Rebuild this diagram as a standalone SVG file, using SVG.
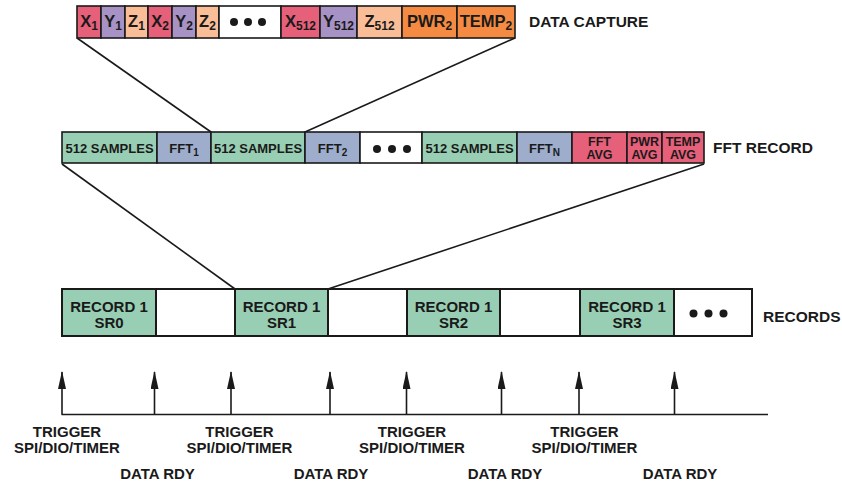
<svg xmlns="http://www.w3.org/2000/svg" width="842" height="485" viewBox="0 0 842 485">
<defs>
<style>
text{font-family:"Liberation Sans",Arial,sans-serif;font-weight:bold;fill:#1a1a1a}
.c{stroke:#1a1a1a;stroke-width:1.6}
.r{stroke:#1a1a1a;stroke-width:2}
.x{fill:#E6607A}.y{fill:#A692C5}.z{fill:#F9BE98}.o{fill:#F58A42}.w{fill:#fff}.g{fill:#98CEB3}.b{fill:#9DADCB}
.t16{font-size:16.5px;text-anchor:middle}
.t13{font-size:13px;text-anchor:middle}
.t12{font-size:12.5px;text-anchor:middle}
.t15{font-size:15px;text-anchor:middle}
.lab{font-size:15.5px}
.tl{font-size:15px;text-anchor:middle}
.ln{stroke:#1a1a1a;stroke-width:1.6;fill:none}
.s1{font-size:12px}
.s2{font-size:10px}
</style>
<marker id="ah" viewBox="0 0 18 8" refX="17" refY="4" markerWidth="18" markerHeight="8" markerUnits="userSpaceOnUse" orient="auto">
<path d="M0,0 L18,4 L0,8 Z" fill="#1a1a1a"/>
</marker>
</defs>

<g id="connectors">
<line class="ln" x1="77" y1="38" x2="211" y2="132"/>
<line class="ln" x1="515" y1="38" x2="305" y2="132"/>
<line class="ln" x1="62" y1="164" x2="235" y2="289"/>
<line class="ln" x1="704" y1="164" x2="328" y2="289"/>
</g>

<g id="data-capture">
<rect class="c x" x="77" y="6" width="24" height="32"/>
<rect class="c y" x="101" y="6" width="24" height="32"/>
<rect class="c z" x="125" y="6" width="23" height="32"/>
<rect class="c x" x="148" y="6" width="24" height="32"/>
<rect class="c y" x="172" y="6" width="24" height="32"/>
<rect class="c z" x="196" y="6" width="23" height="32"/>
<rect class="c w" x="219" y="6" width="62" height="32"/>
<rect class="c x" x="281" y="6" width="39" height="32"/>
<rect class="c y" x="320" y="6" width="37" height="32"/>
<rect class="c z" x="357" y="6" width="45" height="32"/>
<rect class="c o" x="402" y="6" width="55" height="32"/>
<rect class="c o" x="457" y="6" width="58" height="32"/>
<text class="t16" x="89" y="27">X<tspan class="s1" dy="3">1</tspan></text>
<text class="t16" x="113" y="27">Y<tspan class="s1" dy="3">1</tspan></text>
<text class="t16" x="136.5" y="27">Z<tspan class="s1" dy="3">1</tspan></text>
<text class="t16" x="160" y="27">X<tspan class="s1" dy="3">2</tspan></text>
<text class="t16" x="184" y="27">Y<tspan class="s1" dy="3">2</tspan></text>
<text class="t16" x="207.5" y="27">Z<tspan class="s1" dy="3">2</tspan></text>
<circle cx="234" cy="22" r="4" fill="#1a1a1a"/>
<circle cx="248" cy="22" r="4" fill="#1a1a1a"/>
<circle cx="262" cy="22" r="4" fill="#1a1a1a"/>
<text class="t16" x="300.5" y="27">X<tspan class="s1" dy="3">512</tspan></text>
<text class="t16" x="338.5" y="27">Y<tspan class="s1" dy="3">512</tspan></text>
<text class="t16" x="379.5" y="27">Z<tspan class="s1" dy="3">512</tspan></text>
<text class="t16" x="429.5" y="27">PWR<tspan class="s1" dy="3">2</tspan></text>
<text class="t16" x="486" y="27">TEMP<tspan class="s1" dy="3">2</tspan></text>
<text class="lab" x="529" y="27">DATA CAPTURE</text>
</g>

<g id="fft-record">
<rect class="c g" x="62" y="132" width="95" height="31"/>
<rect class="c b" x="157" y="132" width="54" height="31"/>
<rect class="c g" x="211" y="132" width="94" height="31"/>
<rect class="c b" x="305" y="132" width="55" height="31"/>
<rect class="c w" x="360" y="132" width="62" height="31"/>
<rect class="c g" x="422" y="132" width="95" height="31"/>
<rect class="c b" x="517" y="132" width="55" height="31"/>
<rect class="c x" x="572" y="132" width="55" height="31"/>
<rect class="c x" x="627" y="132" width="35" height="31"/>
<rect class="c x" x="662" y="132" width="42" height="31"/>
<text class="t13" x="109.5" y="152.5">512 SAMPLES</text>
<text class="t13" x="184" y="152.5">FFT<tspan class="s2" dy="3">1</tspan></text>
<text class="t13" x="258" y="152.5">512 SAMPLES</text>
<text class="t13" x="332.5" y="152.5">FFT<tspan class="s2" dy="3">2</tspan></text>
<circle cx="377" cy="149" r="4" fill="#1a1a1a"/>
<circle cx="392" cy="149" r="4" fill="#1a1a1a"/>
<circle cx="407" cy="149" r="4" fill="#1a1a1a"/>
<text class="t13" x="469.5" y="152.5">512 SAMPLES</text>
<text class="t13" x="544.5" y="152.5">FFT<tspan class="s2" dy="3">N</tspan></text>
<text class="t12" x="599.5" y="146">FFT</text>
<text class="t12" x="599.5" y="159">AVG</text>
<text class="t12" x="644.5" y="146">PWR</text>
<text class="t12" x="644.5" y="159">AVG</text>
<text class="t12" x="683" y="146">TEMP</text>
<text class="t12" x="683" y="159">AVG</text>
<text class="lab" x="713" y="153">FFT RECORD</text>
</g>

<g id="records">
<rect class="r g" x="62" y="289" width="94" height="47"/>
<rect class="r w" x="156" y="289" width="79" height="47"/>
<rect class="r g" x="235" y="289" width="93" height="47"/>
<rect class="r w" x="328" y="289" width="79" height="47"/>
<rect class="r g" x="407" y="289" width="93" height="47"/>
<rect class="r w" x="500" y="289" width="80" height="47"/>
<rect class="r g" x="580" y="289" width="94" height="47"/>
<rect class="r w" x="674" y="289" width="78" height="47"/>
<text class="t15" x="109" y="312">RECORD 1</text>
<text class="t15" x="109" y="327.5">SR0</text>
<text class="t15" x="281.5" y="312">RECORD 1</text>
<text class="t15" x="281.5" y="327.5">SR1</text>
<text class="t15" x="453.5" y="312">RECORD 1</text>
<text class="t15" x="453.5" y="327.5">SR2</text>
<text class="t15" x="627" y="312">RECORD 1</text>
<text class="t15" x="627" y="327.5">SR3</text>
<circle cx="693.5" cy="313.5" r="4" fill="#1a1a1a"/>
<circle cx="708.5" cy="313.5" r="4" fill="#1a1a1a"/>
<circle cx="723.5" cy="313.5" r="4" fill="#1a1a1a"/>
<text class="lab" x="763" y="321.5">RECORDS</text>
</g>

<g id="timeline">
<line class="ln" x1="61.5" y1="414.5" x2="768" y2="414.5"/>
<line class="ln" x1="62" y1="414.5" x2="62" y2="372" marker-end="url(#ah)"/>
<line class="ln" x1="154.5" y1="414.5" x2="154.5" y2="372" marker-end="url(#ah)"/>
<line class="ln" x1="231" y1="414.5" x2="231" y2="372" marker-end="url(#ah)"/>
<line class="ln" x1="330" y1="414.5" x2="330" y2="372" marker-end="url(#ah)"/>
<line class="ln" x1="406.5" y1="414.5" x2="406.5" y2="372" marker-end="url(#ah)"/>
<line class="ln" x1="501.5" y1="414.5" x2="501.5" y2="372" marker-end="url(#ah)"/>
<line class="ln" x1="579" y1="414.5" x2="579" y2="372" marker-end="url(#ah)"/>
<line class="ln" x1="674.5" y1="414.5" x2="674.5" y2="372" marker-end="url(#ah)"/>
<text class="tl" x="67" y="436.5">TRIGGER</text>
<text class="tl" x="67" y="452.5">SPI/DIO/TIMER</text>
<text class="tl" x="239.5" y="436.5">TRIGGER</text>
<text class="tl" x="239.5" y="452.5">SPI/DIO/TIMER</text>
<text class="tl" x="412" y="436.5">TRIGGER</text>
<text class="tl" x="412" y="452.5">SPI/DIO/TIMER</text>
<text class="tl" x="584.5" y="436.5">TRIGGER</text>
<text class="tl" x="584.5" y="452.5">SPI/DIO/TIMER</text>
<text class="tl" x="157.5" y="479">DATA RDY</text>
<text class="tl" x="331" y="479">DATA RDY</text>
<text class="tl" x="505" y="479">DATA RDY</text>
<text class="tl" x="680" y="479">DATA RDY</text>
</g>
</svg>
